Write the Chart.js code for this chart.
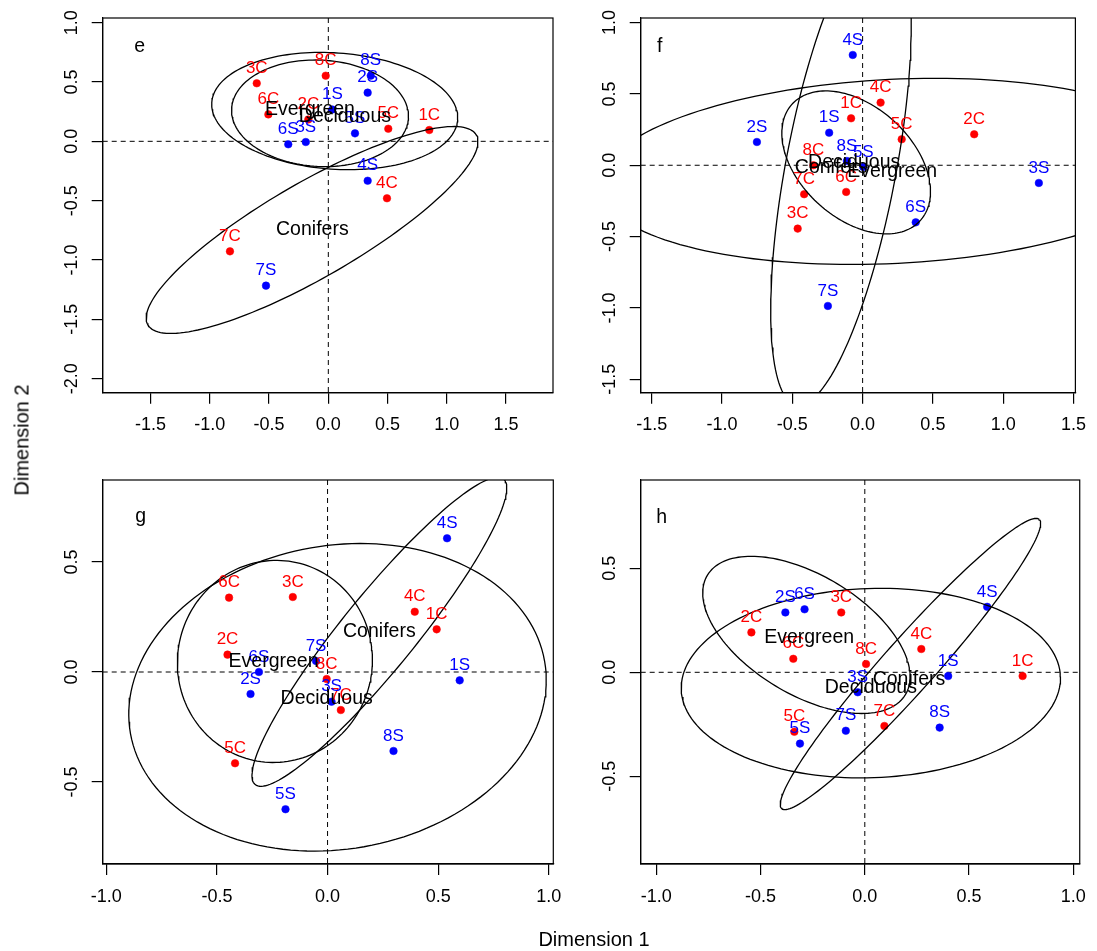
<!DOCTYPE html>
<html>
<head>
<meta charset="utf-8">
<script src="https://cdn.jsdelivr.net/npm/chart.js@4.4.1/dist/chart.umd.min.js"></script>
<style>
html, body { margin: 0; padding: 0; background: #fff; }
#wrap { position: relative; width: 1097px; height: 951px; overflow: hidden; font-family: "Liberation Sans", Arial, sans-serif; }
canvas { position: absolute; left: 0; top: 0; }
.title { position: absolute; font-size: 20px; color: #000; white-space: nowrap; }
</style>
</head>
<body>
<div id="wrap">
  <canvas id="pe" width="1097" height="951"></canvas>
  <canvas id="pf" width="1097" height="951"></canvas>
  <canvas id="pg" width="1097" height="951"></canvas>
  <canvas id="ph" width="1097" height="951"></canvas>
  <div class="title" style="left:594px; top:939px; transform:translate(-50%,-50%)">Dimension 1</div>
  <div class="title" style="left:22px; top:440px; transform:translate(-50%,-50%) rotate(-90deg)">Dimension 2</div>
</div>
<script>
// site labels
const cLabels = ['1C', '2C', '3C', '4C', '5C', '6C', '7C', '8C'];
const sLabels = ['1S', '2S', '3S', '4S', '5S', '6S', '7S', '8S'];
const groupNames = ['Evergreen', 'Deciduous', 'Conifers'];

// panel e
const eCx = [0.852, -0.169, -0.604, 0.495, 0.506, -0.506, -0.83, -0.022];
const eCy = [0.095, 0.184, 0.489, -0.48, 0.106, 0.227, -0.927, 0.553];
const eSx = [0.034, 0.332, -0.19, 0.332, 0.225, -0.338, -0.526, 0.358];
const eSy = [0.268, 0.41, -0.006, -0.332, 0.067, -0.025, -1.216, 0.553];
const eGroupX = [-0.155, 0.14, -0.135];
const eGroupY = [0.27, 0.21, -0.747];
// ellipses: centre x, centre y, semi-axis a, semi-axis b, angle (deg)
const eEllipses = [[-0.07, 0.236, 0.747, 0.448, -3], [0.054, 0.255, 1.04, 0.49, -4], [-0.137, -0.747, 1.6, 0.4, 30]];
const eXTicks = [-1.5, -1.0, -0.5, 0.0, 0.5, 1.0, 1.5];
const eYTicks = [-2.0, -1.5, -1.0, -0.5, 0.0, 0.5, 1.0];

// panel f
const fCx = [-0.082, 0.794, -0.462, 0.128, 0.278, -0.117, -0.416, -0.35];
const fCy = [0.329, 0.217, -0.444, 0.439, 0.182, -0.187, -0.203, 0.0];
const fSx = [-0.238, -0.752, 1.254, -0.07, 0.005, 0.378, -0.247, -0.112];
const fSy = [0.228, 0.163, -0.124, 0.773, -0.012, -0.4, -0.986, 0.03];
const fGroupX = [0.21, -0.06, -0.224];
const fGroupY = [-0.045, 0.015, -0.02];
const fEllipses = [[0.22, -0.043, 2.1, 0.645, 2.8], [-0.046, 0.02, 0.612, 0.395, -41.2], [-0.154, -0.015, 1.696, 0.393, 79.2]];
const fXTicks = [-1.5, -1.0, -0.5, 0.0, 0.5, 1.0, 1.5];
const fYTicks = [-1.5, -1.0, -0.5, 0.0, 0.5, 1.0];

// panel g
const gCx = [0.493, -0.452, -0.157, 0.394, -0.418, -0.445, 0.06, -0.004];
const gCy = [0.194, 0.079, 0.341, 0.274, -0.415, 0.338, -0.173, -0.032];
const gSx = [0.597, -0.348, 0.018, 0.54, -0.19, -0.31, -0.052, 0.298];
const gSy = [-0.038, -0.1, -0.135, 0.608, -0.624, 0.0, 0.05, -0.359];
const gGroupX = [-0.244, -0.004, 0.234];
const gGroupY = [0.047, -0.123, 0.183];
const gEllipses = [[-0.238, 0.048, 0.46, 0.44, 80], [0.045, -0.115, 0.95, 0.69, 10], [0.234, 0.183, 0.893, 0.167, 51.1]];
const gXTicks = [-1.0, -0.5, 0.0, 0.5, 1.0];
const gYTicks = [-0.5, 0.0, 0.5];

// panel h
const hCx = [0.757, -0.544, -0.113, 0.271, -0.338, -0.343, 0.094, 0.006];
const hCy = [-0.018, 0.192, 0.288, 0.112, -0.286, 0.065, -0.258, 0.04];
const hSx = [0.4, -0.381, -0.034, 0.587, -0.311, -0.289, -0.091, 0.359];
const hSy = [-0.018, 0.288, -0.096, 0.315, -0.343, 0.303, -0.281, -0.266];
const hGroupX = [-0.267, 0.029, 0.212];
const hGroupY = [0.168, -0.074, -0.037];
const hEllipses = [[-0.28, 0.18, 0.555, 0.287, -31.2], [0.029, -0.052, 0.91, 0.455, 2], [0.219, 0.04, 0.93, 0.125, 48.4]];
const hXTicks = [-1.0, -0.5, 0.0, 0.5, 1.0];
const hYTicks = [-0.5, 0.0, 0.5];

const FONT = '"Liberation Sans", Arial, sans-serif';
const RED = '#ff0000';
const BLUE = '#0000ff';

const panels = {
    pe: { letter: 'e', cx: eCx, cy: eCy, sx: eSx, sy: eSy, gx: eGroupX, gy: eGroupY, ell: eEllipses,
          xt: eXTicks, yt: eYTicks, x: [-1.904, 1.896], y: [-2.118, 1.039],
          area: { left: 102.7, top: 18, right: 553, bottom: 392.7 }, letterPos: [37, 29] },
    pf: { letter: 'f', cx: fCx, cy: fCy, sx: fSx, sy: fSy, gx: fGroupX, gy: fGroupY, ell: fEllipses,
          xt: fXTicks, yt: fYTicks, x: [-1.579, 1.514], y: [-1.594, 1.032],
          area: { left: 640.7, top: 18, right: 1082, bottom: 392.7 }, letterPos: [19, 29] },
    pg: { letter: 'g', cx: gCx, cy: gCy, sx: gSx, sy: gSy, gx: gGroupX, gy: gGroupY, ell: gEllipses,
          xt: gXTicks, yt: gYTicks, x: [-1.016, 1.02], y: [-0.873, 0.873],
          area: { left: 102.7, top: 480, right: 553.3, bottom: 864 }, letterPos: [38, 37] },
    ph: { letter: 'h', cx: hCx, cy: hCy, sx: hSx, sy: hSy, gx: hGroupX, gy: hGroupY, ell: hEllipses,
          xt: hXTicks, yt: hYTicks, x: [-1.075, 1.031], y: [-0.922, 0.925],
          area: { left: 640.7, top: 480, right: 1082, bottom: 864 }, letterPos: [21, 38] }
};

function ellipsePoints(e) {
    const [cx, cy, a, b, deg] = e;
    const t = deg * Math.PI / 180;
    const pts = [];
    for (let i = 0; i <= 160; i++) {
        const th = 2 * Math.PI * i / 160;
        pts.push({
            x: cx + a * Math.cos(th) * Math.cos(t) - b * Math.sin(th) * Math.sin(t),
            y: cy + a * Math.cos(th) * Math.sin(t) + b * Math.sin(th) * Math.cos(t)
        });
    }
    return pts;
}

const decoPlugin = {
    id: 'deco',
    beforeDatasetsDraw(chart) {
        const { ctx, chartArea: a, scales: { x, y } } = chart;
        ctx.save();
        ctx.beginPath();
        ctx.rect(a.left, a.top, a.right - a.left, a.bottom - a.top);
        ctx.clip();
        ctx.strokeStyle = '#000';
        ctx.lineWidth = 1;
        ctx.setLineDash([5, 4]);
        const x0 = x.getPixelForValue(0), y0 = y.getPixelForValue(0);
        ctx.beginPath();
        ctx.moveTo(x0, a.top); ctx.lineTo(x0, a.bottom);
        ctx.moveTo(a.left, y0); ctx.lineTo(a.right, y0);
        ctx.stroke();
        ctx.restore();
    },
    afterDatasetsDraw(chart) {
        const p = panels[chart.canvas.id];
        const { ctx, chartArea: a, scales: { x, y } } = chart;
        ctx.save();
        ctx.textAlign = 'center';
        ctx.textBaseline = 'middle';
        // point labels
        chart.data.datasets.forEach((ds, i) => {
            if (!ds.pointLabels) return;
            const meta = chart.getDatasetMeta(i);
            ctx.fillStyle = ds.backgroundColor;
            ctx.font = '17px ' + FONT;
            meta.data.forEach((pt, j) => ctx.fillText(ds.pointLabels[j], pt.x, pt.y - 15));
        });
        // group centroid labels
        ctx.fillStyle = '#000';
        ctx.font = '19.5px ' + FONT;
        p.gx.forEach((gx, k) => ctx.fillText(groupNames[k], x.getPixelForValue(gx), y.getPixelForValue(p.gy[k])));
        // panel letter
        ctx.fillText(p.letter, a.left + p.letterPos[0], a.top + p.letterPos[1]);
        // box
        ctx.strokeStyle = '#000';
        ctx.lineWidth = 1.2;
        ctx.strokeRect(a.left, a.top, a.right - a.left, a.bottom - a.top);
        // rotated y tick labels
        ctx.font = '18px ' + FONT;
        p.yt.forEach(v => {
            ctx.save();
            ctx.translate(a.left - 31, y.getPixelForValue(v));
            ctx.rotate(-Math.PI / 2);
            ctx.fillText(v.toFixed(1), 0, 0);
            ctx.restore();
        });
        ctx.restore();
    }
};

Object.keys(panels).forEach(id => {
    const p = panels[id];
    const W = 40, H = 50;
    const datasets = p.ell.map(e => ({
        data: ellipsePoints(e),
        showLine: true,
        pointRadius: 0,
        borderColor: '#000',
        borderWidth: 1.3,
        fill: false,
        tension: 0
    }));
    datasets.push({
        data: p.cx.map((v, i) => ({ x: v, y: p.cy[i] })),
        pointLabels: cLabels,
        backgroundColor: RED,
        borderColor: RED,
        pointRadius: 3.8,
        borderWidth: 0.5
    });
    datasets.push({
        data: p.sx.map((v, i) => ({ x: v, y: p.sy[i] })),
        pointLabels: sLabels,
        backgroundColor: BLUE,
        borderColor: BLUE,
        pointRadius: 3.8,
        borderWidth: 0.5
    });

    new Chart(document.getElementById(id), {
        type: 'scatter',
        data: { datasets: datasets },
        options: {
            responsive: false,
            animation: false,
            events: [],
            layout: {
                padding: {
                    left: p.area.left - W,
                    top: p.area.top,
                    right: 1097 - p.area.right,
                    bottom: 951 - p.area.bottom - H
                }
            },
            plugins: { legend: { display: false }, tooltip: { enabled: false } },
            scales: {
                x: {
                    type: 'linear',
                    min: p.x[0], max: p.x[1],
                    afterFit: s => { s.height = H; },
                    afterBuildTicks: s => { s.ticks = p.xt.map(v => ({ value: v })); },
                    grid: { drawOnChartArea: false, drawTicks: true, tickLength: 11, color: '#000', lineWidth: 1.2 },
                    border: { display: true, color: '#000', width: 1.2 },
                    ticks: {
                        color: '#000', padding: 11, maxRotation: 0, autoSkip: false,
                        font: { family: FONT, size: 18 },
                        callback: v => v.toFixed(1)
                    }
                },
                y: {
                    type: 'linear',
                    min: p.y[0], max: p.y[1],
                    afterFit: s => { s.width = W; },
                    afterBuildTicks: s => { s.ticks = p.yt.map(v => ({ value: v })); },
                    grid: { drawOnChartArea: false, drawTicks: true, tickLength: 11, color: '#000', lineWidth: 1.2 },
                    border: { display: true, color: '#000', width: 1.2 },
                    ticks: { color: 'rgba(0,0,0,0)', autoSkip: false, font: { family: FONT, size: 18 } }
                }
            }
        },
        plugins: [decoPlugin]
    });
});
</script>
</body>
</html>
